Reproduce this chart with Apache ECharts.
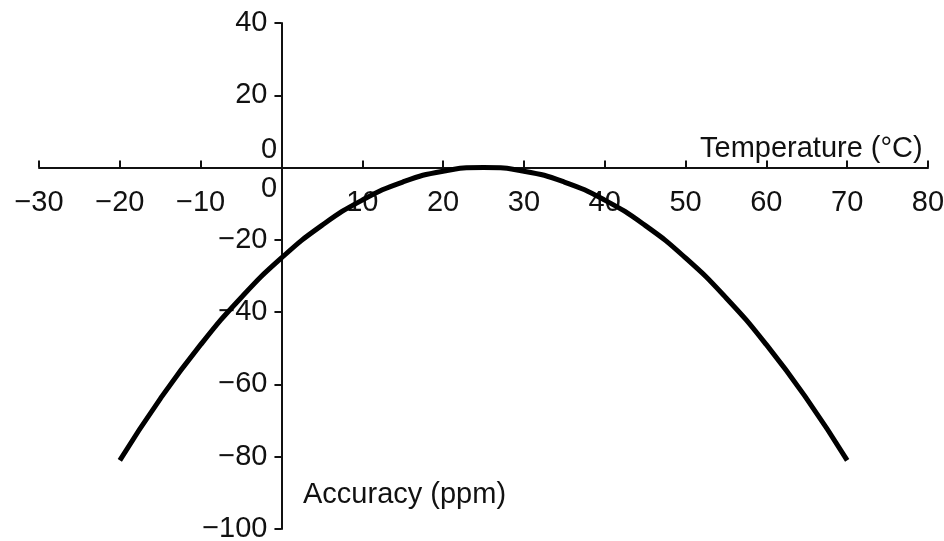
<!DOCTYPE html>
<html>
<head>
<meta charset="utf-8">
<script src="https://cdn.jsdelivr.net/npm/echarts@6/dist/echarts.min.js"></script>
<style>
  html, body { margin: 0; padding: 0; background: #fff; }
  #chart { width: 944px; height: 541px; }
</style>
</head>
<body>
<div id="chart"></div>
<script>
// temperature (°C) and accuracy (ppm)
const temps = [-20, -15, -10, -5, 0, 5, 10, 15, 20, 25, 30, 35, 40, 45, 50, 55, 60, 65, 70];
const accuracy = [-81, -64, -49, -36, -25, -16, -9, -4, -1, 0, -1, -4, -9, -16, -25, -36, -49, -64, -81];
const xTicks = { min: -30, max: 80, step: 10 };
const yTicks = { min: -100, max: 40, step: 20 };

const font = '"Liberation Sans", Arial, sans-serif';
const ink = '#111';
const fs = 29;
const minus = (v) => String(v).replace('-', '\u2212');

// grid box; axes are shifted so they cross at (0, 0)
const gLeft = 39, gRight = 16, gTop = 23, gBottom = 12;
const W = 944, H = 541;
const gW = W - gLeft - gRight, gH = H - gTop - gBottom;
const yAxisShift = gW * (0 - xTicks.min) / (xTicks.max - xTicks.min);
const xAxisShift = gH * (0 - yTicks.min) / (yTicks.max - yTicks.min);

const chart = echarts.init(document.getElementById('chart'));

chart.setOption({
  animation: false,
  grid: { left: gLeft, right: gRight, top: gTop, bottom: gBottom, outerBoundsMode: 'none' },
  xAxis: {
    type: 'value',
    position: 'bottom',
    offset: -xAxisShift,
    min: xTicks.min,
    max: xTicks.max,
    interval: xTicks.step,
    splitLine: { show: false },
    axisLine: { onZero: false, lineStyle: { color: ink, width: 2 } },
    axisTick: { inside: true, length: 7, lineStyle: { color: ink, width: 2 } },
    axisLabel: {
      margin: 21,
      color: ink,
      fontSize: fs,
      fontFamily: font,
      formatter: (v) => (v === 0 ? '' : minus(v)),
    },
  },
  yAxis: {
    type: 'value',
    position: 'left',
    offset: -yAxisShift,
    min: yTicks.min,
    max: yTicks.max,
    interval: yTicks.step,
    splitLine: { show: false },
    axisLine: { onZero: false, lineStyle: { color: ink, width: 2 } },
    axisTick: { inside: false, length: 7, lineStyle: { color: ink, width: 2 } },
    axisLabel: {
      margin: 14,
      color: ink,
      fontSize: fs,
      fontFamily: font,
      formatter: (v) => (v === 0 ? '' : minus(v)),
    },
  },
  graphic: [
    { type: 'text', left: 700, top: 134, style: { text: 'Temperature (°C)', fill: ink, font: fs + 'px ' + font } },
    { type: 'text', left: 303, top: 480, style: { text: 'Accuracy (ppm)', fill: ink, font: fs + 'px ' + font } },
    { type: 'text', left: 261, top: 135, style: { text: '0', fill: ink, font: fs + 'px ' + font } },
    { type: 'text', left: 261, top: 174, style: { text: '0', fill: ink, font: fs + 'px ' + font } },
  ],
  series: [
    {
      type: 'line',
      data: temps.map((t, i) => [t, accuracy[i]]),
      smooth: true,
      showSymbol: false,
      lineStyle: { color: '#000', width: 5, cap: 'butt' },
      z: 5,
    },
  ],
});
</script>
</body>
</html>
